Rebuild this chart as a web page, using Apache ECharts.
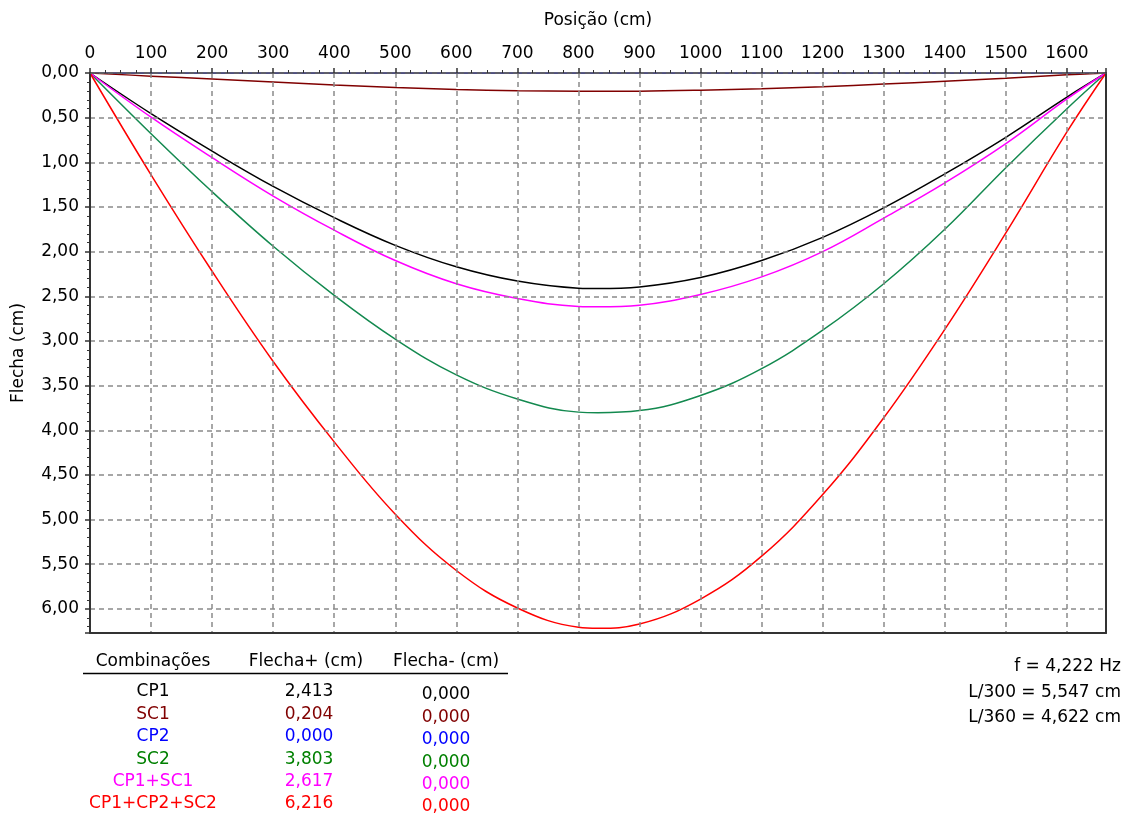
<!DOCTYPE html>
<html>
<head>
<meta charset="utf-8">
<title>Flecha</title>
<script src="https://cdn.jsdelivr.net/npm/echarts@6/dist/echarts.min.js"></script>
<style>
  html, body { margin: 0; padding: 0; background: #fff; }
  #chart { width: 1126px; height: 815px; }
</style>
</head>
<body>
<div id="chart"></div>
<script>
// posições ao longo do vão (cm)
const posicoes = [0, 100, 200, 300, 400, 500, 600, 700, 800, 832, 900, 1000, 1100, 1200, 1300, 1400, 1500, 1600, 1664]

// flechas (cm)
const cp1 = [0, 0.455, 0.875, 1.27, 1.62, 1.93, 2.17, 2.33, 2.409, 2.413, 2.395, 2.29, 2.10, 1.84, 1.51, 1.13, 0.72, 0.27, 0]
const sc1 = [0, 0.035, 0.068, 0.100, 0.133, 0.162, 0.184, 0.198, 0.2035, 0.204, 0.203, 0.193, 0.176, 0.153, 0.124, 0.092, 0.058, 0.020, 0]
const cp2 = [0, 0, 0, 0, 0, 0, 0, 0, 0, 0, 0, 0, 0, 0, 0, 0, 0, 0, 0]
const sc2 = [0, 0.68, 1.33, 1.94, 2.49, 2.98, 3.38, 3.65, 3.797, 3.803, 3.78, 3.61, 3.31, 2.88, 2.36, 1.75, 1.06, 0.40, 0]
const cp1sc1 = [0, 0.495, 0.948, 1.378, 1.76, 2.10, 2.36, 2.525, 2.613, 2.617, 2.60, 2.48, 2.283, 2.0, 1.625, 1.23, 0.79, 0.29, 0]
const cp1cp2sc2 = [0, 1.14, 2.22, 3.23, 4.13, 4.94, 5.57, 5.99, 6.205, 6.216, 6.17, 5.89, 5.41, 4.72, 3.86, 2.87, 1.79, 0.66, 0]

// tabela de resultados
const combinacoes = ['CP1', 'SC1', 'CP2', 'SC2', 'CP1+SC1', 'CP1+CP2+SC2']
const flechaMais = [2.413, 0.204, 0.000, 3.803, 2.617, 6.216]
const flechaMenos = [0.000, 0.000, 0.000, 0.000, 0.000, 0.000]
const cores = ['#000000', '#800000', '#0000ff', '#008000', '#ff00ff', '#ff0000']
const coresCurva = ['#000000', '#800000', '#0000ff', '#13894f', '#ff00ff', '#ff0000']

const frequencia = 4.222
const limite300 = 5.547
const limite360 = 4.622

const vao = 1664
const yMax = 6.27

const fmt = (v, d) => v.toFixed(d).replace('.', ',')
const FONT = '"DejaVu Sans", Verdana, sans-serif'
const FS = 17

const chart = echarts.init(document.getElementById('chart'))

const dados = [cp1, sc1, cp2, sc2, cp1sc1, cp1cp2sc2]
const series = dados.map((vals, i) => ({
  name: combinacoes[i],
  type: 'line',
  xAxisIndex: 0,
  yAxisIndex: 0,
  smooth: 0.4,
  symbol: 'none',
  z: i === 2 ? 0 : 2,
  lineStyle: { color: coresCurva[i], width: 1.5 },
  data: posicoes.map((x, k) => [x, vals[k]]),
}))

const gridLine = { show: true, lineStyle: { color: '#8a8a8a', width: 1.5, type: [5, 4] } }

// tabela embaixo
const graphic = []
const colX = [153, 306, 446]
const txt = (x, y, text, fill, align) => ({
  type: 'text', x: x, y: y,
  style: { text: text, font: FS + 'px ' + FONT, fill: fill, align: align || 'center', verticalAlign: 'middle' },
})
graphic.push(
  txt(colX[0], 662, 'Combinações', '#000'),
  txt(colX[1], 662, 'Flecha+ (cm)', '#000'),
  txt(colX[2], 662, 'Flecha- (cm)', '#000'),
  { type: 'line', shape: { x1: 83, y1: 673.5, x2: 508, y2: 673.5 }, style: { stroke: '#000', lineWidth: 1.5 } }
)
combinacoes.forEach((nome, i) => {
  const y = 692 + i * 22.4
  graphic.push(
    txt(colX[0], y, nome, cores[i]),
    txt(colX[1] + 3, y, fmt(flechaMais[i], 3), cores[i]),
    txt(colX[2], y + 3, fmt(flechaMenos[i], 3), cores[i])
  )
})
const info = [
  'f = ' + fmt(frequencia, 3) + ' Hz',
  'L/300 = ' + fmt(limite300, 3) + ' cm',
  'L/360 = ' + fmt(limite360, 3) + ' cm',
]
info.forEach((t, i) => {
  graphic.push(txt(1121, 667 + i * 25.5, t, '#000', 'right'))
})

chart.setOption({
  animation: false,
  backgroundColor: '#fff',
  textStyle: { fontFamily: FONT },
  grid: { left: 90, right: 20, top: 73, bottom: 182, show: false },
  xAxis: [
    {
      type: 'value',
      position: 'top',
      min: 0,
      max: vao,
      interval: 100,
      z: 3,
      name: 'Posição (cm)',
      nameLocation: 'middle',
      nameGap: 44,
      nameTextStyle: { color: '#000', fontSize: FS, fontFamily: FONT },
      axisLine: { show: true, onZero: false, lineStyle: { color: '#555', width: 1.5 } },
      axisTick: { show: true, length: 5, lineStyle: { color: '#333', width: 1.5 } },
      minorTick: { show: true, splitNumber: 4, length: 3, lineStyle: { color: '#333' } },
      axisLabel: { color: '#000', fontSize: FS, fontFamily: FONT, margin: 11, showMaxLabel: false, formatter: v => String(v) },
      splitLine: gridLine,
    },
    {
      type: 'value',
      position: 'bottom',
      min: 0,
      max: vao,
      interval: 100,
      z: 3,
      axisLine: { show: true, onZero: false, lineStyle: { color: '#333', width: 2 } },
      axisTick: { show: false },
      axisLabel: { show: false },
      splitLine: { show: false },
    },
  ],
  yAxis: [
    {
      type: 'value',
      inverse: true,
      min: 0,
      max: yMax,
      interval: 0.5,
      z: 3,
      name: 'Flecha (cm)',
      nameLocation: 'middle',
      nameGap: 63,
      nameTextStyle: { color: '#000', fontSize: FS, fontFamily: FONT },
      axisLine: { show: true, onZero: false, lineStyle: { color: '#333', width: 2 } },
      axisTick: { show: true, length: 5, lineStyle: { color: '#333', width: 1.5 } },
      minorTick: { show: true, splitNumber: 5, length: 3, lineStyle: { color: '#333' } },
      axisLabel: { color: '#000', fontSize: FS, fontFamily: FONT, margin: 11, showMaxLabel: false, formatter: v => fmt(v, 2) },
      splitLine: gridLine,
    },
    {
      type: 'value',
      position: 'right',
      inverse: true,
      min: 0,
      max: yMax,
      z: 3,
      axisLine: { show: true, onZero: false, lineStyle: { color: '#333', width: 2 } },
      axisTick: { show: false },
      axisLabel: { show: false },
      splitLine: { show: false },
    },
  ],
  series: series,
  graphic: graphic,
})
</script>
</body>
</html>
